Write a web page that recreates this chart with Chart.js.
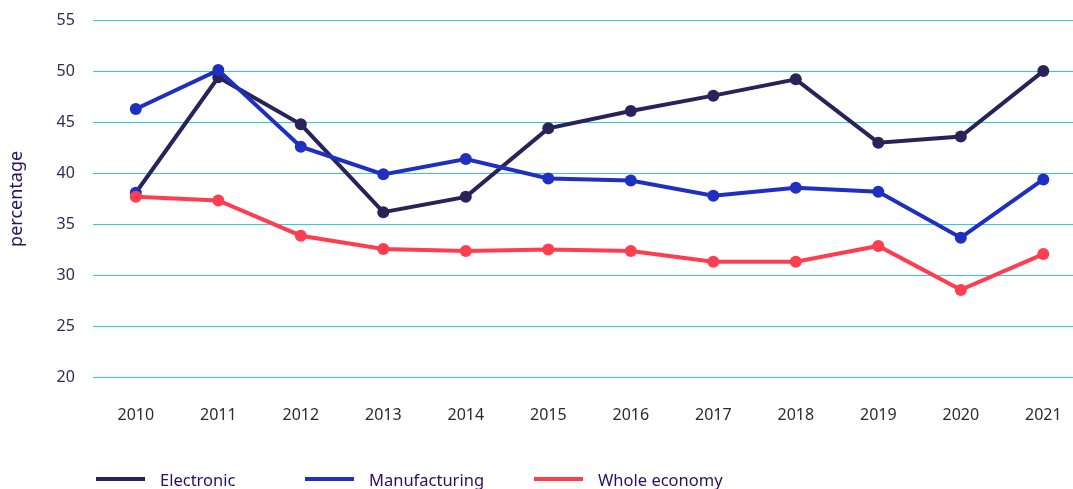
<!DOCTYPE html>
<html>
<head>
<meta charset="utf-8">
<script src="https://cdn.jsdelivr.net/npm/chart.js@4/dist/chart.umd.min.js"></script>
<style>
  html, body { margin: 0; padding: 0; background: #fff; }
  #wrap { width: 1073px; height: 489px; position: relative; }
  #legend {
    position: absolute; left: 96px; top: 468px; height: 22px;
    display: flex; align-items: center;
    font-family: 'Noto Sans', 'Open Sans', sans-serif; font-size: 16.5px; color: #2d0f60;
  }
  #legend .item { display: flex; align-items: center; }
  #legend .swatch { width: 49px; height: 4px; margin-right: 15px; }
</style>
</head>
<body>
<div id="wrap">
  <canvas id="myChart"></canvas>
  <div id="legend"></div>
</div>
<script>
// years along the x axis
const years = [2010, 2011, 2012, 2013, 2014, 2015, 2016, 2017, 2018, 2019, 2020, 2021];

// percentage values
const electronic = [38.1, 49.4, 44.8, 36.2, 37.7, 44.4, 46.1, 47.6, 49.2, 43.0, 43.6, 50.0];
const manufacturing = [46.3, 50.1, 42.6, 39.9, 41.4, 39.5, 39.3, 37.8, 38.6, 38.2, 33.7, 39.4];
const wholeEconomy = [37.7, 37.35, 33.9, 32.6, 32.4, 32.55, 32.4, 31.35, 31.35, 32.9, 28.6, 32.1];

const yTicks = [20, 25, 30, 35, 40, 45, 50, 55];

const FONT = "'Noto Sans', 'Open Sans', sans-serif";

// turn a series into {x, y} points for the linear year axis
function toPoints(values) {
  return values.map((v, i) => ({ x: years[i], y: v }));
}

const darkNavy = "#29235a";
const blue = "#1f2fc1";
const red = "#ff3d50";

const chart = new Chart("myChart", {
  type: "line",
  data: {
    datasets: [
      {
        label: "Electronic",
        data: toPoints(electronic),
        borderColor: darkNavy,
        backgroundColor: darkNavy,
        // first marker shows up blue in the original
        pointBackgroundColor: electronic.map((v, i) => (i === 0 ? blue : darkNavy)),
        order: 2,
      },
      {
        label: "Manufacturing",
        data: toPoints(manufacturing),
        borderColor: blue,
        backgroundColor: blue,
        order: 1,
      },
      {
        label: "Whole economy",
        data: toPoints(wholeEconomy),
        borderColor: red,
        backgroundColor: red,
        order: 0,
      },
    ],
  },
  options: {
    responsive: true,
    maintainAspectRatio: false,
    animation: false,
    // no auto padding for the point markers, so the plot runs to the right edge
    layout: { autoPadding: false, padding: { left: 0, right: 0, top: 20, bottom: 62 } },
    elements: {
      line: { borderWidth: 4, tension: 0 },
      point: { radius: 6, borderWidth: 0, hoverRadius: 6 },
    },
    scales: {
      x: {
        type: "linear",
        min: 2009.48,
        max: 2021.36,
        // invisible tick marks give the gap under the plot
        grid: { display: true, drawOnChartArea: false, drawTicks: true, tickLength: 26, tickColor: "transparent", color: "transparent" },
        border: { display: false },
        ticks: {
          stepSize: 1,
          includeBounds: false,
          padding: 2,
          color: "#2b2b2f",
          font: { family: FONT, size: 16 },
          callback: (v) => String(v),
        },
      },
      y: {
        min: 20,
        max: 55,
        afterBuildTicks: (axis) => {
          axis.ticks = yTicks.map((v) => ({ value: v }));
        },
        grid: { color: "#2ccfd6", lineWidth: 1, drawTicks: true, tickLength: 18, tickColor: "transparent" },
        border: { display: false },
        ticks: {
          padding: 0,
          color: "#2e2b55",
          font: { family: FONT, size: 16 },
        },
        title: {
          display: true,
          text: "percentage",
          color: "#2d1462",
          padding: { top: 6, bottom: 29 },
          font: { family: FONT, size: 18 },
        },
      },
    },
    plugins: {
      legend: { display: false },
      tooltip: { enabled: false },
    },
  },
});

// legend built from the chart's datasets
const itemWidths = [209, 229, null];
const legendEl = document.getElementById("legend");
chart.data.datasets.forEach((ds, i) => {
  const item = document.createElement("div");
  item.className = "item";
  if (itemWidths[i]) item.style.width = itemWidths[i] + "px";
  const swatch = document.createElement("span");
  swatch.className = "swatch";
  swatch.style.background = ds.borderColor;
  const label = document.createElement("span");
  label.textContent = ds.label;
  item.appendChild(swatch);
  item.appendChild(label);
  legendEl.appendChild(item);
});
</script>
</body>
</html>
